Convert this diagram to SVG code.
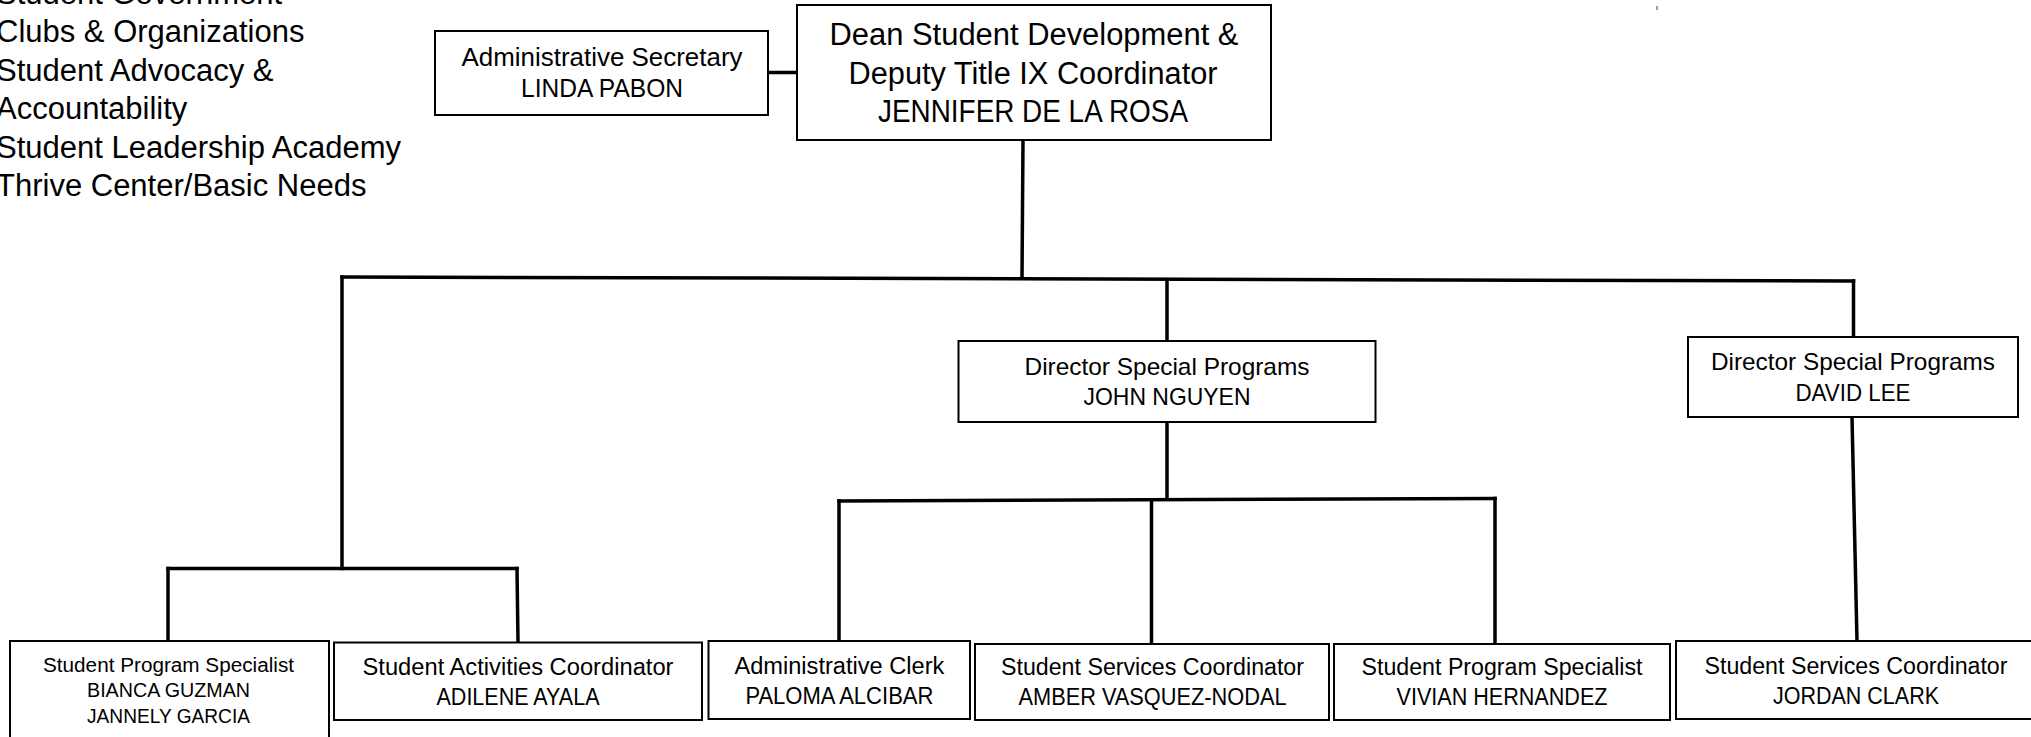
<svg xmlns="http://www.w3.org/2000/svg" width="2031" height="737" viewBox="0 0 2031 737">
<style>
.bg{fill:#ffffff}
.box{fill:#ffffff;stroke:#000000;stroke-width:2}
.ln{fill:none;stroke:#000000;stroke-width:3.5;stroke-linecap:square}
text{font-family:"Liberation Sans",Arial,sans-serif;fill:#000000}
.c{text-anchor:middle}
.list{font-size:31px}
.dean{font-size:31px}
.sec{font-size:25px}
.dir{font-size:24px}
.bot{font-size:23px}
.sm{font-size:20px}
</style>
<rect class="bg" x="0" y="0" width="2031" height="737"/>
<g id="program-list">
<text class="list" x="-4" y="3.5">Student Government</text>
<text class="list" x="-4" y="42">Clubs &amp; Organizations</text>
<text class="list" x="-4" y="80.6">Student Advocacy &amp;</text>
<text class="list" x="-4" y="119.2">Accountability</text>
<text class="list" x="-4" y="157.8">Student Leadership Academy</text>
<text class="list" x="-4" y="196.4">Thrive Center/Basic Needs</text>
</g>
<rect x="1656" y="6" width="2" height="4" fill="#7fa6c8"/>
<g id="connectors">
<line class="ln" x1="768" y1="72.5" x2="797" y2="72.5"/>
<line class="ln" x1="1023" y1="140" x2="1022" y2="278"/>
<line class="ln" x1="342" y1="277" x2="1853.5" y2="281"/>
<line class="ln" x1="342" y1="277" x2="342" y2="568.5"/>
<line class="ln" x1="168" y1="568.5" x2="517" y2="568.5"/>
<line class="ln" x1="168" y1="568.5" x2="168" y2="641"/>
<line class="ln" x1="517" y1="568.5" x2="518" y2="642"/>
<line class="ln" x1="1167" y1="280" x2="1167" y2="341"/>
<line class="ln" x1="1853.5" y1="281" x2="1853.5" y2="337"/>
<line class="ln" x1="1167" y1="422" x2="1167" y2="499"/>
<line class="ln" x1="839" y1="501" x2="1495" y2="498.5"/>
<line class="ln" x1="839" y1="501" x2="839" y2="641"/>
<line class="ln" x1="1151.5" y1="500" x2="1151.5" y2="644"/>
<line class="ln" x1="1495" y1="498.5" x2="1495" y2="644"/>
<line class="ln" x1="1852" y1="417" x2="1857" y2="641"/>
</g>
<g id="admin-secretary">
<rect class="box" x="435" y="31" width="333" height="84"/>
<text class="sec c" x="602" y="66" textLength="281" lengthAdjust="spacingAndGlyphs">Administrative Secretary</text>
<text class="sec c" x="602" y="97" textLength="162" lengthAdjust="spacingAndGlyphs">LINDA PABON</text>
</g>
<g id="dean">
<rect class="box" x="797" y="5" width="474" height="135"/>
<text class="dean c" x="1034" y="45" textLength="409" lengthAdjust="spacingAndGlyphs">Dean Student Development &amp;</text>
<text class="dean c" x="1033" y="83.5" textLength="369" lengthAdjust="spacingAndGlyphs">Deputy Title IX Coordinator</text>
<text class="dean c" x="1033" y="122" textLength="310" lengthAdjust="spacingAndGlyphs">JENNIFER DE LA ROSA</text>
</g>
<g id="director-john">
<rect class="box" x="958.5" y="341" width="417" height="81"/>
<text class="dir c" x="1167" y="375" textLength="285" lengthAdjust="spacingAndGlyphs">Director Special Programs</text>
<text class="dir c" x="1167" y="405" textLength="167" lengthAdjust="spacingAndGlyphs">JOHN NGUYEN</text>
</g>
<g id="director-david">
<rect class="box" x="1688" y="337" width="330" height="80"/>
<text class="dir c" x="1853" y="369.6" textLength="284" lengthAdjust="spacingAndGlyphs">Director Special Programs</text>
<text class="dir c" x="1853" y="401" textLength="115" lengthAdjust="spacingAndGlyphs">DAVID LEE</text>
</g>
<g id="specialist-bianca-jannely">
<rect class="box" x="10" y="641" width="319" height="100"/>
<text class="sm c" x="168.5" y="671.5" textLength="251" lengthAdjust="spacingAndGlyphs">Student Program Specialist</text>
<text class="sm c" x="168.5" y="697" textLength="163" lengthAdjust="spacingAndGlyphs">BIANCA GUZMAN</text>
<text class="sm c" x="168.5" y="723" textLength="163" lengthAdjust="spacingAndGlyphs">JANNELY GARCIA</text>
</g>
<g id="activities-adilene">
<rect class="box" x="334" y="642.5" width="368" height="77.5"/>
<text class="bot c" x="518" y="675" textLength="311" lengthAdjust="spacingAndGlyphs">Student Activities Coordinator</text>
<text class="bot c" x="518" y="705" textLength="163" lengthAdjust="spacingAndGlyphs">ADILENE AYALA</text>
</g>
<g id="clerk-paloma">
<rect class="box" x="708.5" y="641" width="261.5" height="78"/>
<text class="bot c" x="839.4" y="674" textLength="210" lengthAdjust="spacingAndGlyphs">Administrative Clerk</text>
<text class="bot c" x="839.4" y="703.5" textLength="188" lengthAdjust="spacingAndGlyphs">PALOMA ALCIBAR</text>
</g>
<g id="services-amber">
<rect class="box" x="975" y="644" width="354" height="76"/>
<text class="bot c" x="1152.5" y="675" textLength="303" lengthAdjust="spacingAndGlyphs">Student Services Coordinator</text>
<text class="bot c" x="1152.5" y="705" textLength="268" lengthAdjust="spacingAndGlyphs">AMBER VASQUEZ-NODAL</text>
</g>
<g id="specialist-vivian">
<rect class="box" x="1334" y="644" width="336" height="76"/>
<text class="bot c" x="1502" y="675" textLength="281" lengthAdjust="spacingAndGlyphs">Student Program Specialist</text>
<text class="bot c" x="1502" y="705" textLength="211" lengthAdjust="spacingAndGlyphs">VIVIAN HERNANDEZ</text>
</g>
<g id="services-jordan">
<rect class="box" x="1676" y="641" width="360" height="78"/>
<text class="bot c" x="1856" y="674" textLength="303" lengthAdjust="spacingAndGlyphs">Student Services Coordinator</text>
<text class="bot c" x="1856" y="703.6" textLength="166" lengthAdjust="spacingAndGlyphs">JORDAN CLARK</text>
</g>
</svg>
